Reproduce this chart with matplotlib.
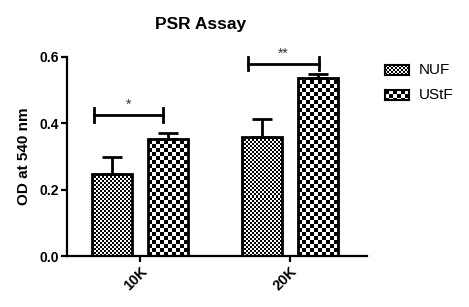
import matplotlib
matplotlib.use('Agg')
import matplotlib.pyplot as plt
from matplotlib.patches import Rectangle
import numpy as np

plt.rcParams['font.family'] = ['Liberation Sans', 'DejaVu Sans']

groups = ['10K', '20K']
series = ['NUF', 'UStF']
nuf = [0.247, 0.360]
nuf_err = [0.051, 0.052]
ustf = [0.352, 0.536]
ustf_err = [0.019, 0.012]
sig_labels = ['*', '**']
sig_y = [0.425, 0.58]

fig = plt.figure(figsize=(4.69, 3.07), dpi=100)
ax = fig.add_axes([67/469, 1-256/307, 300/469, 199/307])
ax.set_xlim(-0.487, 1.513)
ax.set_ylim(0, 0.6)

x = np.arange(len(groups))
w = 0.265
off = 0.185
cells = [2, 4]  # checker cell size in px, fine for NUF, coarse for UStF


def checker(nx, ny, cell):
    jj, ii = np.meshgrid(np.arange(nx), np.arange(ny))
    return (ii // cell + jj // cell) % 2


def checker_bar(ax, xc, h, cell):
    x0 = xc - w/2
    rect = Rectangle((x0, 0), w, h, facecolor='white', edgecolor='black',
                     linewidth=2, zorder=3, fill=False)
    ax.add_patch(rect)
    p0 = ax.transData.transform((x0, 0))
    p1 = ax.transData.transform((x0 + w, h))
    nx = int(round(p1[0] - p0[0]))
    ny = int(round(p1[1] - p0[1]))
    im = ax.imshow(checker(nx, ny, cell), cmap='gray', vmin=0, vmax=1,
                   extent=(x0, x0 + w, 0, h), origin='lower',
                   interpolation='nearest', aspect='auto', zorder=2)
    im.set_clip_path(rect)


for vals, errs, sgn, cell in [(nuf, nuf_err, -1, cells[0]), (ustf, ustf_err, 1, cells[1])]:
    for xi, v in zip(x, vals):
        checker_bar(ax, xi + sgn*off, v, cell)
    ax.errorbar(x + sgn*off, vals, yerr=[[0]*len(vals), errs], fmt='none',
                ecolor='black', elinewidth=2, capsize=7.5, capthick=2, zorder=4)

ax.set_xlim(-0.487, 1.513)
ax.set_ylim(0, 0.6)

# significance brackets
spans = [(-0.31, 0.15), (0.72, 1.19)]
for (a, b), yy, lab in zip(spans, sig_y, sig_labels):
    ax.plot([a, b], [yy, yy], color='black', lw=2, clip_on=False)
    ax.plot([a, a], [yy-0.02, yy+0.02], color='black', lw=2, clip_on=False)
    ax.plot([b, b], [yy-0.02, yy+0.02], color='black', lw=2, clip_on=False)
    ax.text((a+b)/2, yy+0.01, lab, ha='center', va='bottom', fontsize=10, color='#333344')

for s in ['top', 'right']:
    ax.spines[s].set_visible(False)
for s in ['left', 'bottom']:
    ax.spines[s].set_linewidth(1.6)

ax.set_yticks([0.0, 0.2, 0.4, 0.6])
ax.set_yticklabels(['0.0', '0.2', '0.4', '0.6'], fontsize=10, fontweight='bold')
ax.set_xticks(x)
ax.set_xticklabels(groups, rotation=45, ha='right', rotation_mode='anchor',
                   fontsize=10.5, fontweight='bold')
ax.tick_params(axis='both', width=1.6, length=4, pad=2)
ax.set_ylabel('OD at 540 nm', fontsize=11, fontweight='bold', labelpad=6)

fig.text(201/469, 1-24/307, 'PSR Assay', ha='center', va='center',
         fontsize=12.5, fontweight='bold')

# legend swatches
for i, (name, cell) in enumerate(zip(series, cells)):
    top = 65 + i*25
    lax = fig.add_axes([385/469, 1-(top+10)/307, 24/469, 10/307])
    lax.imshow(checker(24, 10, cell), cmap='gray', vmin=0, vmax=1,
               interpolation='nearest', aspect='auto')
    lax.set_xticks([])
    lax.set_yticks([])
    for s in lax.spines.values():
        s.set_linewidth(1.5)
    fig.text(419/469, 1-(top+5)/307, name, ha='left', va='center', fontsize=11)

fig.savefig('out.png', dpi=100)
